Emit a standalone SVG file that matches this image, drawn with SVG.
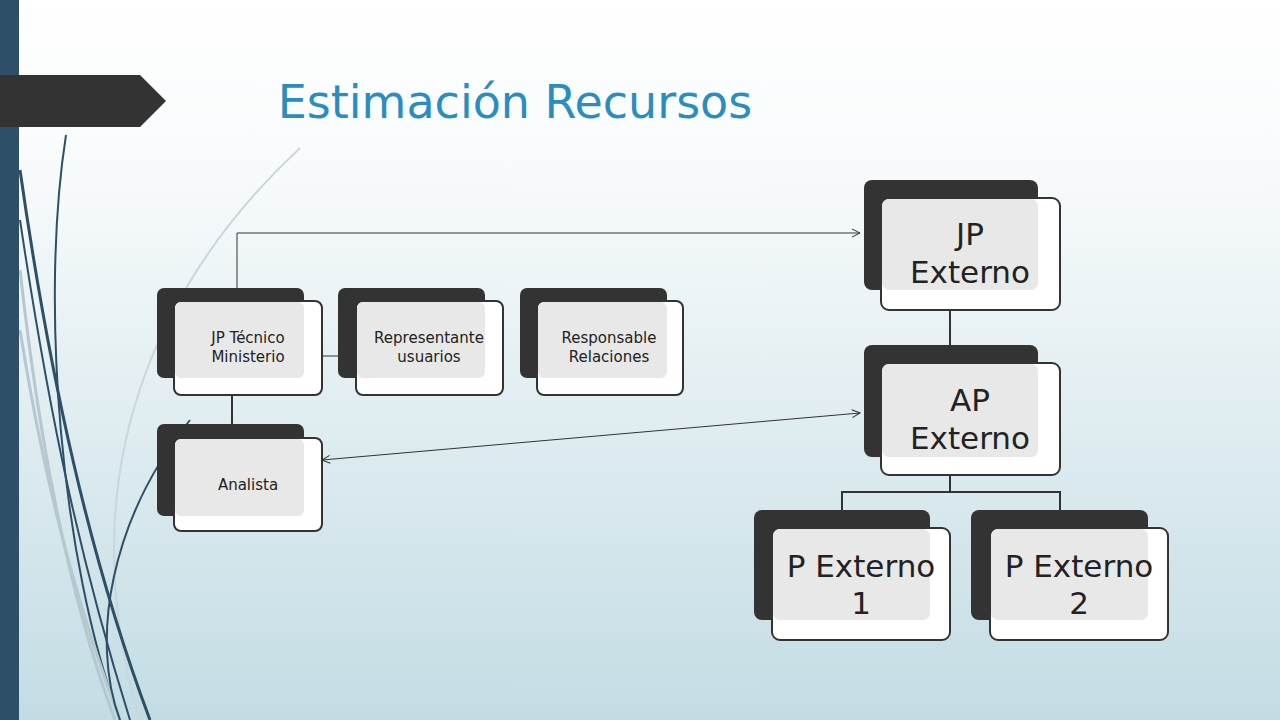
<svg xmlns="http://www.w3.org/2000/svg" width="1280" height="720" viewBox="0 0 1280 720">
<defs>
<linearGradient id="bg" x1="0" y1="0" x2="0" y2="1"><stop offset="0" stop-color="#ffffff"/><stop offset="0.25" stop-color="#f7fafb"/><stop offset="1" stop-color="#c3dce4"/></linearGradient>
<marker id="ar" viewBox="0 0 10 10" refX="9" refY="5" markerWidth="10" markerHeight="10" markerUnits="userSpaceOnUse" orient="auto-start-reverse"><path d="M1,1 L9,5 L1,9" fill="none" stroke="#333" stroke-width="1"/></marker>
<style>
.dk{fill:#333333}
.fr{fill:#ffffff;stroke:#333333;stroke-width:2}
.ov{fill:#e8e8e8}
.t{font-family:"DejaVu Sans","Liberation Sans",sans-serif;fill:#222;text-anchor:middle}
.s{font-size:15px}
.b{font-size:31px}
.c{fill:none;stroke:#333;stroke-width:1}
.ct{fill:none;stroke:#333;stroke-width:2}
</style>
</defs>
<rect width="1280" height="720" fill="url(#bg)"/>
<g fill="none">
<path d="M300,148 C180,260 60,450 140,720" stroke="#c9d6dc" stroke-width="2"/>
<path d="M66,135 C40,300 60,560 120,720" stroke="#2d5068" stroke-width="2"/>
<path d="M20,170 C50,380 90,560 150,720" stroke="#2d5068" stroke-width="3"/>
<path d="M20,220 C50,420 80,560 130,720" stroke="#2d5068" stroke-width="2"/>
<path d="M20,270 C40,450 70,600 115,720" stroke="#b5c8d0" stroke-width="3"/>
<path d="M20,330 C50,520 90,640 120,720" stroke="#b5c8d0" stroke-width="3"/>
<path d="M190,420 C110,520 90,640 120,720" stroke="#2d5068" stroke-width="2"/>
</g>
<rect x="0" y="0" width="19" height="720" fill="#2d5068"/>
<polygon points="0,75 140,75 166,101 140,127 0,127" fill="#333333"/>
<text x="515" y="118" font-family="'DejaVu Sans','Liberation Sans',sans-serif" font-size="46" fill="#2a8dbf" text-anchor="middle">Estimación Recursos</text>
<g id="connectors">
<polyline class="c" points="237,288 237,233 860,233" marker-end="url(#ar)"/>
<line class="ct" x1="232" y1="395" x2="232" y2="424"/>
<line class="c" x1="306" y1="356" x2="386" y2="356" marker-start="url(#ar)" marker-end="url(#ar)"/>
<line class="c" x1="322" y1="460" x2="860" y2="413" marker-start="url(#ar)" marker-end="url(#ar)"/>
<line class="ct" x1="950" y1="310" x2="950" y2="345"/>
<polyline class="ct" points="950,475 950,492"/>
<polyline class="ct" points="842,510 842,492 1060,492 1060,510"/>
</g>
<g id="jp-tecnico"><rect class="dk" x="157" y="288" width="147" height="90" rx="7"/><rect class="fr" x="174" y="301" width="148" height="94" rx="7"/><rect class="ov" x="175" y="302" width="129" height="76" rx="6"/><text class="t s" x="248" y="343">JP Técnico</text><text class="t s" x="248" y="362">Ministerio</text></g>
<g id="representante"><rect class="dk" x="338" y="288" width="147" height="90" rx="7"/><rect class="fr" x="356" y="301" width="147" height="94" rx="7"/><rect class="ov" x="357" y="302" width="128" height="76" rx="6"/><text class="t s" x="429" y="343">Representante</text><text class="t s" x="429" y="362">usuarios</text></g>
<g id="responsable"><rect class="dk" x="520" y="288" width="147" height="90" rx="7"/><rect class="fr" x="537" y="301" width="146" height="94" rx="7"/><rect class="ov" x="538" y="302" width="129" height="76" rx="6"/><text class="t s" x="609" y="343">Responsable</text><text class="t s" x="609" y="362">Relaciones</text></g>
<g id="analista"><rect class="dk" x="157" y="424" width="147" height="92" rx="7"/><rect class="fr" x="174" y="438" width="148" height="93" rx="7"/><rect class="ov" x="175" y="439" width="129" height="77" rx="6"/><text class="t s" x="248" y="490">Analista</text></g>
<g id="jp-externo"><rect class="dk" x="864" y="180" width="174" height="110" rx="8"/><rect class="fr" x="881" y="198" width="179" height="112" rx="8"/><rect class="ov" x="882" y="199" width="156" height="91" rx="7"/><text class="t b" x="970" y="245">JP</text><text class="t b" x="970" y="283">Externo</text></g>
<g id="ap-externo"><rect class="dk" x="864" y="345" width="174" height="112" rx="8"/><rect class="fr" x="881" y="363" width="179" height="112" rx="8"/><rect class="ov" x="882" y="364" width="156" height="93" rx="7"/><text class="t b" x="970" y="411">AP</text><text class="t b" x="970" y="449">Externo</text></g>
<g id="p-externo-1"><rect class="dk" x="754" y="510" width="176" height="110" rx="8"/><rect class="fr" x="772" y="528" width="178" height="112" rx="8"/><rect class="ov" x="773" y="529" width="157" height="91" rx="7"/><text class="t b" x="861" y="577">P Externo</text><text class="t b" x="861" y="614">1</text></g>
<g id="p-externo-2"><rect class="dk" x="971" y="510" width="177" height="110" rx="8"/><rect class="fr" x="990" y="528" width="178" height="112" rx="8"/><rect class="ov" x="991" y="529" width="157" height="91" rx="7"/><text class="t b" x="1079" y="577">P Externo</text><text class="t b" x="1079" y="614">2</text></g>
</svg>
